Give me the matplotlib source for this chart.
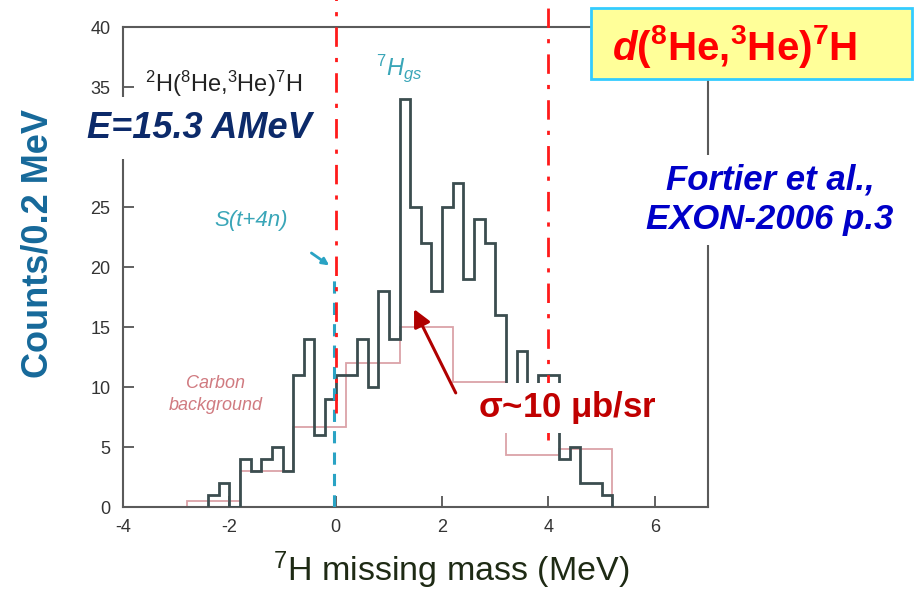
import numpy as np
import matplotlib
matplotlib.use("Agg")
import matplotlib.pyplot as plt
from matplotlib.patches import Rectangle

plt.rcParams['font.family'] = ['Liberation Sans', 'DejaVu Sans']
plt.rcParams['axes.unicode_minus'] = False
plt.rcParams['mathtext.fontset'] = 'custom'
plt.rcParams['mathtext.rm'] = 'Liberation Sans'
plt.rcParams['mathtext.it'] = 'Liberation Sans:italic'
plt.rcParams['mathtext.bf'] = 'Liberation Sans:bold'
plt.rcParams['mathtext.bfit'] = 'Liberation Sans:bold:italic'

# 7H missing mass spectrum, 0.2 MeV bins starting at -2.4 MeV
bin_start = -2.4
bin_width = 0.2
counts = [1, 2, 0, 4, 3, 4, 5, 3, 11, 14, 6, 9, 11, 11, 14, 10, 18, 14,
          34, 25, 22, 18, 25, 27, 19, 24, 22, 16, 9, 13, 8, 11, 11, 4, 5,
          2, 2, 1]
# carbon background, 1 MeV bins
carbon_edges = [-2.8, -1.8, -0.8, 0.2, 1.2, 2.2, 3.2, 4.2, 5.2]
carbon_counts = [0.5, 3, 6.7, 12, 15, 10.4, 4.3, 4.8]

x_ticks = [-4, -2, 0, 2, 4, 6]
y_ticks = [0, 5, 10, 15, 20, 25, 30, 35, 40]
# the 30 label is hidden behind the beam energy box in the original
y_tick_labels = ['0', '5', '10', '15', '20', '25', '', '35', '40']

W, H = 914, 590
def fx(px):
    return px / W
def fy(py):
    return 1 - py / H

fig = plt.figure(figsize=(W / 100, H / 100), dpi=100)
ax = fig.add_axes([fx(123), fy(507), fx(708) - fx(123), fy(27) - fy(507)])

edges = bin_start + bin_width * np.arange(len(counts) + 1)
ax.stairs(carbon_counts, carbon_edges, color='#dba3a8', lw=1.3, zorder=2)
ax.stairs(counts, edges, color='#3b4d4f', lw=2.0, zorder=3)

ax.set_xlim(-4, 7)
ax.set_ylim(0, 40)
ax.set_xticks(x_ticks)
ax.set_yticks(y_ticks)
ax.set_yticklabels(y_tick_labels)
ax.tick_params(direction='in', length=8, width=1.3, colors='#555555',
               labelcolor='#333333', labelsize=13, pad=9)
for s in ax.spines.values():
    s.set_color('#5a5a5a')
    s.set_linewidth(1.5)

# S(t+4n) threshold marker
ax.plot([-0.03, -0.03], [0, 19.6], ls=(0, (4, 3)), color='#2aa3c4', lw=2.2, zorder=4)
ax.annotate('', xy=(-0.08, 20.0), xytext=(-0.5, 21.3),
            arrowprops=dict(arrowstyle='-|>', color='#2aa3c4', lw=2, mutation_scale=10))
ax.text(-1.6, 23.9, 'S(t+4n)', color='#3aa6b8', fontsize=16, style='italic',
        ha='center', va='center')
ax.text(1.19, 36.6, r'$^{7}H_{gs}$', color='#3aa6b8', fontsize=17,
        ha='center', va='center')
ax.text(-3.58, 35.3, r'$^{2}$H($^{8}$He,$^{3}$He)$^{7}$H', color='#222222',
        fontsize=17, ha='left', va='center')
ax.text(-2.26, 9.4, 'Carbon\nbackground', color='#d07a80', fontsize=13,
        style='italic', ha='center', va='center', linespacing=1.4)

# integration window lines
for xv, ylo in [(0, 7.8), (4, 5.6)]:
    ax.plot([xv, xv], [ylo, 42.3], ls=(0, (7, 4, 1.5, 4)), color='#ff1a1a',
            lw=2, clip_on=False, zorder=5)

# labels and annotations
fig.text(fx(38), fy(243), 'Counts/0.2 MeV', rotation=90, color='#16699a',
         fontsize=26, fontweight='bold', ha='center', va='center')
fig.text(fx(451), fy(570), r'$^{7}$H missing mass (MeV)', color='#1e2a14',
         fontsize=24.5, ha='center', va='center')

fig.text(fx(199), fy(128), 'E=15.3 AMeV', color='#0c2a6a', fontsize=26,
         fontweight='bold', style='italic', ha='center', va='center', zorder=10,
         bbox=dict(facecolor='white', edgecolor='none', pad=10))

fig.text(fx(770), fy(200), 'Fortier et al.,\nEXON-2006 p.3', color='#0000c8',
         fontsize=25, fontweight='bold', style='italic', ha='center', va='center',
         linespacing=1.25, zorder=10,
         bbox=dict(facecolor='white', edgecolor='none', pad=6))

ax.annotate('', xy=(1.45, 16.7), xytext=(2.28, 9.3),
            arrowprops=dict(arrowstyle='-|>', color='#b00000', lw=2.2,
                            mutation_scale=26), zorder=6)
fig.text(fx(567), fy(408), r'$\mathbf{\sigma}$~10 $\mathbf{\mu}$b/sr', color='#c00000',
         fontsize=25, fontweight='bold', ha='center', va='center', zorder=10,
         bbox=dict(facecolor='white', edgecolor='none', pad=5))

box = Rectangle((fx(591), fy(79)), fx(912) - fx(591), fy(8) - fy(79),
                transform=fig.transFigure, facecolor='#ffff99',
                edgecolor='#33ccff', lw=2, zorder=10)
fig.add_artist(box)
fig.text(fx(612), fy(46),
         r'$\mathbfit{d}$($^{\mathbf{8}}$He,$^{\mathbf{3}}$He)$^{\mathbf{7}}$H',
         color='#ff0000', fontsize=29, fontweight='bold', ha='left', va='center',
         zorder=11)

fig.savefig('out.png', dpi=100)
